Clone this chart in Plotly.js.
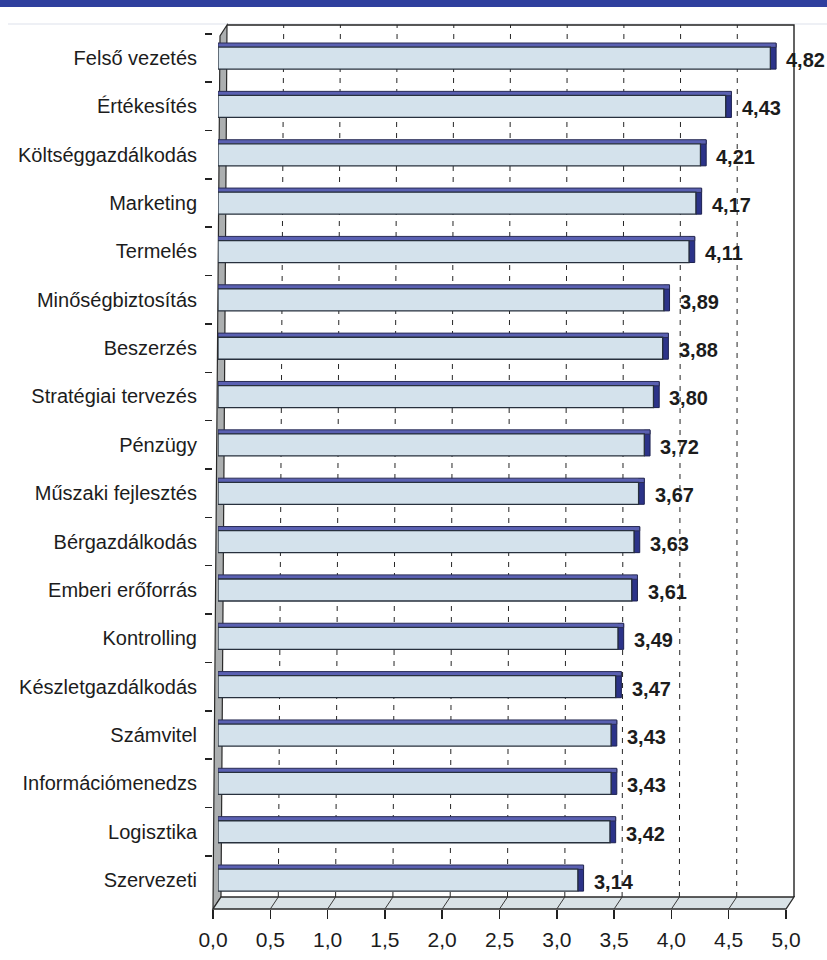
<!DOCTYPE html>
<html>
<head>
<meta charset="utf-8">
<script src="https://cdn.plot.ly/plotly-3.0.1.min.js"></script>
<style>
  html, body { margin: 0; padding: 0; background: #ffffff; }
  #chart { width: 827px; height: 960px; }
</style>
</head>
<body>
<div id="chart"></div>
<script>
// Functional areas, top to bottom, with their average scores
const categories = [
  "Felső vezetés", "Értékesítés", "Költséggazdálkodás", "Marketing", "Termelés",
  "Minőségbiztosítás", "Beszerzés", "Stratégiai tervezés", "Pénzügy",
  "Műszaki fejlesztés", "Bérgazdálkodás", "Emberi erőforrás", "Kontrolling",
  "Készletgazdálkodás", "Számvitel", "Információmenedzs", "Logisztika", "Szervezeti"
];
const scores = [
  4.82, 4.43, 4.21, 4.17, 4.11,
  3.89, 3.88, 3.80, 3.72,
  3.67, 3.63, 3.61, 3.49,
  3.47, 3.43, 3.43, 3.42, 3.14
];
const tickValues = [0, 0.5, 1, 1.5, 2, 2.5, 3, 3.5, 4, 4.5, 5];

// ---- page geometry (pixels) ----
const W = 827, H = 960;
const M = { l: 213, r: 33, t: 25, b: 51 };
const PW = W - M.l - M.r, PH = H - M.t - M.b;
const px = x => (x - M.l) / PW;          // page x -> paper x
const py = y => (H - M.b - y) / PH;      // page y -> paper y

// front plane (ticks), bar plane and back plane (grid) of the 3-D box
const FRONT = [213, 786], BARS = [218, 791], BACK = [221, 794];
const FLOOR_BACK_Y = 897, FLOOR_FRONT_Y = 909, TOP_Y = 25;
const LEAN = 6;                          // perspective lean of the back wall at x = 0 (px)
const DEPTH = 0.05;                      // bar depth in value units

const FONT = "Liberation Sans, Arial, Helvetica, sans-serif";
const INK = "#1c1c1c";

const faceFill = "#d4e2ec", faceLine = "#27303d";
const topFill = "#5a60b2", sideFill = "#2c3389";

// subplot order: x (back wall) -> x2 (front ticks) -> x3 (bars on top)
const traces = [
  {
    type: "scatter", mode: "markers", x: scores, y: categories,
    marker: { opacity: 0 }, xaxis: "x", yaxis: "y", hoverinfo: "skip", showlegend: false
  },
  {
    type: "scatter", mode: "markers", x: scores, y: categories,
    marker: { opacity: 0 }, xaxis: "x2", yaxis: "y", hoverinfo: "skip", showlegend: false
  },
  { // right-hand side face of each bar
    type: "bar", orientation: "h", y: categories,
    base: scores, x: scores.map(() => DEPTH),
    offset: -0.3, width: 0.53,
    marker: { color: sideFill, line: { color: "#1c2050", width: 1 } },
    xaxis: "x3", yaxis: "y", hoverinfo: "skip"
  },
  { // top face
    type: "bar", orientation: "h", y: categories,
    x: scores.map(v => v + DEPTH),
    offset: -0.31, width: 0.09,
    marker: { color: topFill, line: { color: "#2a2d55", width: 1 } },
    xaxis: "x3", yaxis: "y", hoverinfo: "skip"
  },
  { // front face
    type: "bar", orientation: "h", y: categories, x: scores,
    offset: -0.225, width: 0.455,
    marker: { color: faceFill, line: { color: faceLine, width: 1.3 } },
    xaxis: "x3", yaxis: "y", hoverinfo: "skip"
  }
];

// value labels, read from the same scores that draw the bars
const annotations = scores.map((v, i) => ({
  x: v, y: categories[i], xref: "x3", yref: "y",
  text: v.toFixed(2).replace(".", ","),
  showarrow: false, xanchor: "left", yanchor: "middle",
  xshift: 14, yshift: -2,
  font: { family: FONT, size: 20, color: INK, weight: "bold" }
}));

// 3-D box: header band, back-wall grid, left wall, floor and outline
const shapes = [];
shapes.push({
  type: "rect", xref: "paper", yref: "paper",
  x0: px(0), x1: px(W), y0: py(0), y1: py(7),
  fillcolor: "#2f3f9e", line: { width: 0 }, layer: "above"
});
shapes.push({
  type: "line", xref: "paper", yref: "paper",
  x0: px(8), x1: px(W), y0: py(24), y1: py(24),
  line: { color: "#e9ebf2", width: 1.5 }, layer: "below"
});

const backScale = (BACK[1] - BACK[0]) / 5;   // px per value unit on the back wall
// dashed grid on the back wall, leaning slightly with the perspective
tickValues.slice(1, -1).forEach(t => {
  const lean = LEAN * (1 - t / 5) / backScale;
  shapes.push({
    type: "line", xref: "x", yref: "paper",
    x0: t, y0: py(FLOOR_BACK_Y), x1: t + lean, y1: py(TOP_Y),
    line: { color: "#262626", width: 1, dash: "5px,6px" }, layer: "between"
  });
});
// left wall
shapes.push({
  type: "path", xref: "paper", yref: "paper",
  path: `M ${px(FRONT[0])},${py(FLOOR_FRONT_Y)} L ${px(BACK[0])},${py(FLOOR_BACK_Y)} ` +
        `L ${px(BACK[0] + LEAN)},${py(TOP_Y)} L ${px(FRONT[0] + 7)},${py(TOP_Y + 11)} Z`,
  fillcolor: "#acafb0", line: { color: "#2a2a2a", width: 1.2 }, layer: "between"
});
// floor
shapes.push({
  type: "path", xref: "paper", yref: "paper",
  path: `M ${px(FRONT[0])},${py(FLOOR_FRONT_Y)} L ${px(FRONT[1])},${py(FLOOR_FRONT_Y)} ` +
        `L ${px(BACK[1])},${py(FLOOR_BACK_Y)} L ${px(BACK[0])},${py(FLOOR_BACK_Y)} Z`,
  fillcolor: "#d9e2e6", line: { color: "#2a2a2a", width: 1.3 }, layer: "between"
});
tickValues.slice(1, -1).forEach(t => {
  const f = FRONT[0] + (FRONT[1] - FRONT[0]) * t / 5;
  const b = BACK[0] + (BACK[1] - BACK[0]) * t / 5;
  shapes.push({
    type: "line", xref: "paper", yref: "paper",
    x0: px(b), y0: py(FLOOR_BACK_Y), x1: px(f), y1: py(FLOOR_FRONT_Y),
    line: { color: "#3a3a3a", width: 1 }, layer: "between"
  });
});
// back wall: top and right edges
shapes.push({
  type: "path", xref: "paper", yref: "paper",
  path: `M ${px(BACK[0] + LEAN)},${py(TOP_Y)} L ${px(BACK[1])},${py(TOP_Y)} L ${px(BACK[1])},${py(FLOOR_BACK_Y)}`,
  line: { color: "#222222", width: 1.4 }, layer: "between"
});

const rowTop = -0.6825, rowBottom = 17.60;   // category range incl. box padding

const layout = {
  width: W, height: H,
  margin: M,
  paper_bgcolor: "#ffffff", plot_bgcolor: "rgba(0,0,0,0)",
  separators: ", ",
  barmode: "overlay",
  showlegend: false,
  hovermode: false,
  font: { family: FONT, color: INK, size: 20 },
  xaxis: { // back wall
    domain: [px(BACK[0]), px(BACK[1])], range: [0, 5], anchor: "y",
    showticklabels: false, ticks: "", showgrid: false, zeroline: false, showline: false
  },
  xaxis2: { // front edge with tick marks and labels
    domain: [px(FRONT[0]), px(FRONT[1])], range: [0, 5], anchor: "y", side: "bottom",
    tickvals: tickValues, tickformat: ".1f",
    ticks: "outside", ticklen: 9, tickwidth: 1.5, tickcolor: "#222222",
    ticklabelstandoff: 3,
    tickfont: { family: FONT, size: 21, color: INK },
    showgrid: false, zeroline: false, showline: false
  },
  xaxis3: { // bar plane
    domain: [px(BARS[0]), px(BARS[1])], range: [0, 5], anchor: "y",
    showgrid: false, zeroline: false, showline: false, showticklabels: false, ticks: ""
  },
  yaxis: {
    type: "category", categoryorder: "array", categoryarray: categories,
    range: [rowBottom, rowTop], anchor: "x2",
    ticks: "outside", tickson: "boundaries", ticklen: 7, tickwidth: 1.5, tickcolor: "#222222",
    ticklabelstandoff: 15,
    tickfont: { family: FONT, size: 20, color: INK },
    showgrid: false, zeroline: false, showline: false
  },
  shapes: shapes,
  annotations: annotations
};

Plotly.newPlot("chart", traces, layout, { staticPlot: true, displayModeBar: false });
</script>
</body>
</html>
